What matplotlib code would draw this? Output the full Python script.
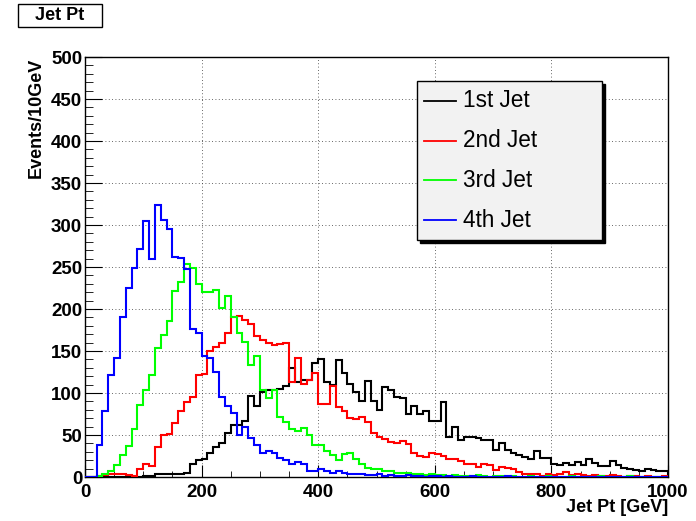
import matplotlib
matplotlib.use("Agg")
import matplotlib.pyplot as plt
import numpy as np
from matplotlib.lines import Line2D
from matplotlib.patches import Rectangle

plt.rcParams["font.family"] = ["Liberation Sans", "DejaVu Sans"]
plt.rcParams["font.weight"] = "bold"

# 100 bins of 10 GeV between 0 and 1000 GeV
bin_edges = np.arange(0, 1001, 10)

jet1 = [0, 0, 0, 0, 0, 0, 0, 0, 0, 0,
        1, 1, 3, 4, 3, 4, 3, 5, 16, 20,
        22, 28, 36, 40, 52, 62, 62, 67, 97, 84,
        101, 103, 104, 105, 108, 130, 113, 115, 116, 136,
        141, 113, 109, 139, 124, 111, 101, 90, 114, 91,
        80, 107, 104, 95, 94, 75, 84, 75, 79, 67,
        67, 89, 48, 60, 44, 48, 48, 47, 44, 44,
        32, 40, 32, 28, 26, 24, 21, 31, 23, 23,
        16, 14, 17, 14, 18, 14, 22, 17, 13, 13,
        19, 14, 11, 10, 8, 7, 9, 8, 7, 7]

jet2 = [0, 0, 1, 2, 3, 4, 3, 2, 1, 9,
        16, 13, 36, 50, 51, 64, 78, 89, 95, 122,
        123, 150, 155, 160, 172, 190, 192, 187, 182, 168,
        163, 160, 157, 158, 160, 113, 142, 111, 116, 124,
        87, 87, 108, 83, 78, 70, 69, 71, 66, 52,
        48, 45, 42, 40, 43, 39, 28, 25, 24, 29,
        27, 25, 22, 21, 19, 15, 16, 12, 16, 14,
        8, 12, 11, 9, 6, 4, 3, 3, 1, 3,
        2, 4, 6, 2, 3, 2, 1, 2, 1, 1,
        2, 1, 0, 1, 1, 0, 1, 0, 0, 1]

jet3 = [0, 0, 1, 3, 7, 14, 26, 37, 57, 86,
        103, 121, 154, 169, 186, 222, 232, 253, 249, 230,
        220, 220, 223, 201, 215, 190, 172, 161, 133, 144,
        103, 94, 104, 71, 65, 57, 55, 58, 50, 38,
        38, 31, 26, 20, 27, 28, 22, 15, 11, 9,
        9, 7, 7, 5, 5, 5, 3, 4, 2, 3,
        2, 2, 1, 2, 1, 1, 1, 2, 1, 0,
        1, 1, 0, 1, 0, 0, 1, 0, 0, 1,
        0, 0, 0, 1, 0, 0, 0, 0, 1, 0,
        0, 0, 0, 1, 0, 0, 0, 0, 0, 0]

jet4 = [0, 0, 38, 78, 121, 142, 191, 225, 249, 271,
        305, 260, 324, 306, 295, 262, 261, 248, 176, 171,
        144, 142, 125, 95, 85, 76, 50, 60, 47, 38,
        29, 31, 28, 23, 20, 16, 18, 15, 7, 7,
        9, 7, 5, 7, 5, 3, 4, 3, 2, 2,
        3, 1, 2, 1, 1, 2, 1, 1, 0, 1,
        1, 0, 1, 0, 0, 0, 1, 0, 0, 0,
        0, 0, 1, 0, 0, 0, 0, 0, 0, 0,
        0, 0, 0, 0, 0, 0, 0, 0, 0, 0,
        0, 0, 0, 0, 0, 0, 0, 0, 0, 0]

labels = ["1st Jet", "2nd Jet", "3rd Jet", "4th Jet"]
colors = ["black", "#ff0000", "#00ff00", "#0000ff"]

W, H = 696, 521
fig = plt.figure(figsize=(W / 100, H / 100), dpi=100)
fig.patch.set_facecolor("white")
ax = fig.add_axes([85 / W, (H - 477) / H, 583 / W, 420 / H])

for vals, c in zip([jet1, jet2, jet3, jet4], colors):
    ax.stairs(vals, bin_edges, color=c, linewidth=1.5, zorder=3)

ax.set_xlim(0, 1000)
ax.set_ylim(0, 500)
ax.set_xticks(np.arange(0, 1001, 200))
ax.set_xticks(np.arange(0, 1001, 50), minor=True)
ax.set_yticks(np.arange(0, 501, 50))
ax.set_yticks(np.arange(0, 501, 10), minor=True)
ax.grid(True, which="major", color="#333333", linestyle=(0, (1, 3)), linewidth=0.6, zorder=1)
ax.tick_params(which="both", direction="in", top=False, right=False, labelsize=13.5)
ax.tick_params(axis="y", which="major", length=12, pad=2)
ax.tick_params(axis="y", which="minor", length=5.5)
ax.tick_params(axis="x", which="major", length=9, pad=5)
ax.tick_params(axis="x", which="minor", length=4.5)
for s in ax.spines.values():
    s.set_linewidth(1.0)

fig.text(36 / W, 1 - 58 / H, "Events/10GeV", rotation=90, ha="center", va="top", fontsize=13)
fig.text(668 / W, 1 - 508 / H, "Jet Pt [GeV]", ha="right", va="center", fontsize=13)

# title box
fig.add_artist(Rectangle((18 / W, 1 - 27 / H), 84 / W, 23 / H, transform=fig.transFigure,
                         facecolor="white", edgecolor="black", linewidth=1.0))
fig.text(60 / W, 1 - 16 / H, "Jet Pt", ha="center", va="center", fontsize=13)


# legend, placed like the ROOT TLegend
def px(x, y):
    return (x - 85) / 583, (477 - y) / 420


x0, y0 = px(417, 240)
x1, y1 = px(602, 81)
sx, sy = 3 / 583, 3 / 420
ax.add_patch(Rectangle((x0 + sx, y0 - sy), x1 - x0, y1 - y0, transform=ax.transAxes,
                       facecolor="black", edgecolor="black", zorder=5))
ax.add_patch(Rectangle((x0, y0), x1 - x0, y1 - y0, transform=ax.transAxes,
                       facecolor="#f2f2f2", edgecolor="black", linewidth=1.0, zorder=6))
for i, (lab, c) in enumerate(zip(labels, colors)):
    yc = 81 + 159 * (2 * i + 1) / 8
    lx0, ly = px(424, yc)
    lx1, _ = px(456, yc)
    ax.add_line(Line2D([lx0, lx1], [ly, ly], color=c, linewidth=1.3, transform=ax.transAxes, zorder=7))
    tx, _ = px(463, yc)
    ax.text(tx, ly, lab, transform=ax.transAxes, ha="left", va="center",
            fontsize=16.3, fontweight="normal", zorder=7)

fig.savefig("out.png", dpi=100)
